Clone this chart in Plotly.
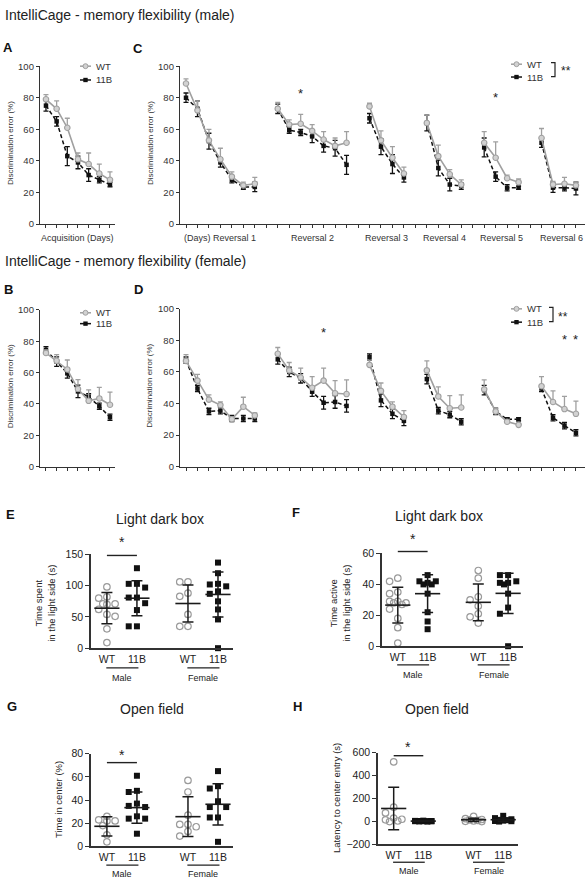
import numpy as np
import plotly.graph_objects as go

W, H = 586, 886
FONT = "Liberation Sans, Arial, sans-serif"
TXT = "#222222"
AX = "#333333"

# ---------------- data ----------------
acq_days = [1, 2, 3, 4, 5, 6, 7]
reversal_names = ["(Days) Reversal 1", "Reversal 2", "Reversal 3", "Reversal 4", "Reversal 5", "Reversal 6"]
reversal_days = [7, 7, 4, 4, 4, 4]

male_acq_wt = [79, 73, 61, 41, 38, 32, 28]
male_acq_wt_err = [3, 5, 6, 4, 7, 6, 5]
male_acq_kb = [75, 65, 43, 39, 31, 28, 25]
male_acq_kb_err = [3.5, 3, 6, 4, 4, 2, 1.5]

female_acq_wt = [72.5, 67.5, 62, 49.5, 42, 43.5, 39.5]
female_acq_wt_err = [2, 4, 6, 6, 7, 7, 8]
female_acq_kb = [74.5, 67, 59.5, 48, 44.5, 38.5, 31.5]
female_acq_kb_err = [2, 3, 3, 4, 2, 2, 2]

male_rev_wt = [[89, 72, 53, 41, 30, 24.5, 25.5], [73, 63, 63.5, 59, 53.5, 49.5, 51.5],
               [74.5, 53, 42, 32], [64, 43, 31.5, 25], [51.5, 42, 29, 26.5], [54.5, 25, 25.5, 24.5]]
male_rev_wt_err = [[3, 6, 7, 7, 3, 2, 4], [4, 3, 6, 4, 5, 5, 7],
                   [2, 6, 7, 4], [5, 7, 3, 3], [7, 10, 2, 2], [6, 2, 4, 2]]
male_rev_kb = [[80, 73, 52.5, 39, 28, 23.5, 23.5], [73, 59.5, 58, 55.5, 49.5, 48, 37.5],
               [67, 49, 38, 29.5], [64, 35.5, 25, 24], [48.5, 30, 23, 23], [51.5, 23, 23, 22.5]]
male_rev_kb_err = [[3, 5, 5, 3, 2, 1.5, 3], [3, 2, 2, 4, 4, 5, 6],
                   [3, 5, 6, 3], [5, 5, 4, 2], [6, 3, 2, 1], [3, 3, 2, 4]]

female_rev_wt = [[67, 54.5, 42.5, 39, 30, 38, 32.5], [71.5, 61, 56.5, 50, 54.5, 46.5, 46],
                 [64.5, 48, 38, 31.5], [61, 44.5, 37, 37.5], [49, 35, 28.5, 26.5], [51, 41, 36.5, 33.5]]
female_rev_wt_err = [[4, 4, 3, 2, 1.5, 6, 1.5], [4, 5, 6, 7, 8, 8, 9],
                     [3, 5, 3, 4], [6, 6, 8, 8], [6, 2, 1, 1], [6, 7, 8, 8]]
female_rev_kb = [[67.5, 49.5, 35, 35.5, 30.5, 30.5, 30.5], [68, 60, 56, 47.5, 40.5, 41, 38.5],
                 [69.5, 42, 33.5, 29], [55.5, 35.5, 33, 28.5], [48.5, 35, 30, 30], [49.5, 31, 26, 21.5]]
female_rev_kb_err = [[2, 2, 2, 2, 2, 2, 2], [3, 3, 3, 3, 4, 4, 4],
                     [2, 4, 3, 3], [3, 2, 2, 2], [3, 2, 1, 1], [2, 2, 2, 2]]

group_labels = ["WT", "11B", "WT", "11B"]
sex_labels = ["Male", "Female"]

# E: light dark box, time spent (s)
E_points = [[98, 82, 80, 71, 70, 71, 62, 54, 51, 31, 9],
            [128, 103, 103, 97, 81, 81, 72, 61, 35, 35],
            [106, 106, 88, 83, 54, 35, 35],
            [137, 120, 99, 102, 103, 91, 87, 75, 62, 46, 0]]
E_mean = [64, 80, 71.5, 86]
E_sd = [25, 28, 29.5, 36]
E_ticks = [0, 50, 100, 150]

# F: light dark box, time active (s)
F_points = [[44, 42, 35, 34, 29, 29, 28, 28, 27, 24, 18, 12, 2],
            [46, 42, 42, 41, 40, 40, 34, 22, 16, 11],
            [49, 44, 32, 30, 26, 21, 19, 15],
            [46, 46, 42, 41, 41, 40, 34, 25, 21, 0]]
F_mean = [26.6, 34, 28.4, 34.2]
F_sd = [11.6, 12.2, 11.9, 13]
F_ticks = [0, 20, 40, 60]

# G: open field, time in center (%)
G_points = [[23, 22, 26, 22, 18, 10, 4],
            [61, 47, 48, 37, 34, 35, 26, 24, 24, 11],
            [57, 47, 27, 19, 19, 17, 13, 9],
            [65, 50, 52, 39, 34, 34, 25, 25, 4]]
G_mean = [17.4, 33.5, 25.7, 36.4]
G_sd = [8.3, 13.5, 17.1, 17.8]
G_ticks = [0, 20, 40, 60, 80]

# H: open field, latency to center entry (s)
H_points = [[520, 125, 75, 30, 20, 15, 5, 0],
            [8, 6, 5, 5, 4, 3, 3, 2, 1, 0],
            [45, 25, 18, 15, 10, 5, 2, 0],
            [50, 30, 20, 15, 12, 8, 5, 3, 0]]
H_mean = [114, 4, 15, 16]
H_sd = [186, 3, 14, 16]
H_ticks = [-200, 0, 200, 400, 600]

# ---------------- layout geometry (pixels) ----------------
group_x = [1, 2, 3.7, 4.7]
P = {
    'A': dict(n='', xd=(40, 115), yd=(61, 221), xr=(0.44, 7.47), yr=(0, 100)),
    'C': dict(n='2', xd=(180, 585), yd=(61, 221), xr=(0.477, 35.79), yr=(0, 100)),
    'B': dict(n='3', xd=(40, 115), yd=(308, 467), xr=(0.44, 7.47), yr=(0, 100)),
    'D': dict(n='4', xd=(180, 585), yd=(307, 467), xr=(0.477, 35.79), yr=(0, 100)),
    'E': dict(n='5', xd=(91, 233), yd=(556, 651), xr=(0.47, 5.2), yr=(0, 150)),
    'F': dict(n='6', xd=(382, 523), yd=(555, 649), xr=(0.47, 5.2), yr=(0, 60)),
    'G': dict(n='7', xd=(91, 233), yd=(758, 852), xr=(0.47, 5.2), yr=(0, 80)),
    'H': dict(n='8', xd=(378, 518), yd=(757, 850), xr=(0.47, 5.2), yr=(-200, 600)),
}


def fx(px):
    return px / W


def fy(py):
    return 1 - py / H


def xpx(p, v):
    d = P[p]
    return d['xd'][0] + (v - d['xr'][0]) / (d['xr'][1] - d['xr'][0]) * (d['xd'][1] - d['xd'][0])


def xscale(p):
    d = P[p]
    return (d['xd'][1] - d['xd'][0]) / (d['xr'][1] - d['xr'][0])


def yscale(p):
    d = P[p]
    return (d['yd'][1] - d['yd'][0]) / (d['yr'][1] - d['yr'][0])


def slot_groups(days):
    out, s = [], 1
    for n in days:
        out.append(list(range(s, s + n)))
        s += n + 1
    return out


rev_slots = slot_groups(reversal_days)
all_slots = list(range(1, rev_slots[-1][-1] + 1))

fig = go.Figure()

WT_LINE = "#a0a0a0"
WT_FILL = "#d2d2d2"
KB = "#111111"


def add_lines(p, xs_groups, wt, wt_err, kb, kb_err):
    n = P[p]['n']
    xa, ya = 'x' + n, 'y' + n
    xs, wy, we, ky, ke, z = [], [], [], [], [], []
    for sl, a, ae, b, be in zip(xs_groups, wt, wt_err, kb, kb_err):
        xs += list(sl) + [None]
        wy += list(a) + [None]
        we += list(ae) + [0]
        ky += list(b) + [None]
        ke += list(be) + [0]
        z += [0] * len(sl) + [0]
    fig.add_trace(go.Scatter(x=xs, y=ky, xaxis=xa, yaxis=ya, mode='lines+markers', showlegend=False,
                             line=dict(color=KB, width=1.5, dash='4px,2.5px'),
                             marker=dict(symbol='square', size=4.5, color=KB),
                             error_y=dict(type='data', array=ke, symmetric=True, color=KB,
                                          thickness=1.3, width=2.5),
                             cliponaxis=False))
    fig.add_trace(go.Scatter(x=xs, y=wy, xaxis=xa, yaxis=ya, mode='lines+markers', showlegend=False,
                             line=dict(color=WT_LINE, width=1.6),
                             marker=dict(symbol='circle', size=5.5, color=WT_FILL,
                                         line=dict(color=WT_LINE, width=1.1)),
                             error_y=dict(type='data', array=we, arrayminus=z, symmetric=False,
                                          color=WT_LINE, thickness=1.3, width=2.5),
                             cliponaxis=False))


add_lines('A', [acq_days], [male_acq_wt], [male_acq_wt_err], [male_acq_kb], [male_acq_kb_err])
add_lines('B', [acq_days], [female_acq_wt], [female_acq_wt_err], [female_acq_kb], [female_acq_kb_err])
add_lines('C', rev_slots, male_rev_wt, male_rev_wt_err, male_rev_kb, male_rev_kb_err)
add_lines('D', rev_slots, female_rev_wt, female_rev_wt_err, female_rev_kb, female_rev_kb_err)


def swarm(vals, x0, xs_, ys_, step=8.2, diam=7.0):
    order = sorted(range(len(vals)), key=lambda i: -vals[i])
    placed = []
    offs = [0.0] * len(vals)
    for i in order:
        yp = vals[i] * ys_
        chosen = None
        for k in (0, -1, 1):
            dx = k * step
            if all(np.hypot(dx - a, yp - b) >= diam for a, b in placed):
                chosen = dx
                break
        if chosen is None:
            best = max((0, -1, 1, -0.5, 0.5),
                       key=lambda k: min(np.hypot(k * step - a, yp - b) for a, b in placed))
            chosen = best * step
        placed.append((chosen, yp))
        offs[i] = chosen
    return [x0 + o / xs_ for o in offs]


def add_dots(p, pts, means, sds):
    n = P[p]['n']
    xa, ya = 'x' + n, 'y' + n
    for gi, vals in enumerate(pts):
        xs = swarm(vals, group_x[gi], xscale(p), yscale(p))
        if gi % 2 == 0:
            mk = dict(symbol='circle-open', size=6.5, color='#9a9a9a', line=dict(width=1.2))
        else:
            mk = dict(symbol='square', size=6, color=KB)
        fig.add_trace(go.Scatter(x=xs, y=vals, xaxis=xa, yaxis=ya, mode='markers', marker=mk,
                                 showlegend=False, cliponaxis=False))
    fig.add_trace(go.Scatter(x=group_x, y=means, xaxis=xa, yaxis=ya, mode='markers', showlegend=False,
                             marker=dict(symbol='line-ew', size=18, line=dict(color='#1a1a1a', width=1.6)),
                             error_y=dict(type='data', array=sds, color='#1a1a1a', thickness=1.5, width=5.5),
                             cliponaxis=False))


add_dots('E', E_points, E_mean, E_sd)
add_dots('F', F_points, F_mean, F_sd)
add_dots('G', G_points, G_mean, G_sd)
add_dots('H', H_points, H_mean, H_sd)

# ---------------- axes ----------------
lay = {}
for p, d in P.items():
    n = d['n']
    xd = [fx(d['xd'][0]), fx(d['xd'][1])]
    yd = [fy(d['yd'][1]), fy(d['yd'][0])]
    line_ax = p in 'ABCD'
    xa = dict(domain=xd, range=list(d['xr']), anchor='y' + n, showgrid=False, zeroline=False,
              showline=True, linecolor=AX, linewidth=1.3 if line_ax else 1.5, fixedrange=True)
    ya = dict(domain=yd, range=list(d['yr']), anchor='x' + n, showgrid=False, zeroline=False,
              showline=True, linecolor=AX, linewidth=1.3 if line_ax else 1.5, ticks='outside',
              tickcolor=AX, tickwidth=1.2, fixedrange=True)
    if line_ax:
        xa.update(ticks='outside', ticklen=3, tickwidth=1, tickcolor=AX, showticklabels=False,
                  tickvals=acq_days if p in 'AB' else all_slots)
        ya.update(ticklen=3, tickvals=[0, 20, 40, 60, 80, 100],
                  tickfont=dict(size=9.5, color=AX, family=FONT))
    else:
        xa.update(ticks='', tickvals=group_x, ticktext=group_labels,
                  tickfont=dict(size=10.5, color=TXT, family=FONT))
        tv = {'E': E_ticks, 'F': F_ticks, 'G': G_ticks, 'H': H_ticks}[p]
        ya.update(ticklen=4, tickvals=tv, tickfont=dict(size=10.5, color=TXT, family=FONT))
    lay['xaxis' + n] = xa
    lay['yaxis' + n] = ya

ann = []
shapes = []


def text(px, py, s, size, xanchor='center', bold=False, angle=0, color=TXT):
    ann.append(dict(x=fx(px), y=fy(py), xref='paper', yref='paper', text=('<b>%s</b>' % s) if bold else s,
                    showarrow=False, xanchor=xanchor, yanchor='middle', textangle=angle,
                    font=dict(size=size, color=color, family=FONT)))


def hline(x0, x1, py, color='#222', width=1.4):
    shapes.append(dict(type='line', xref='paper', yref='paper', x0=fx(x0), x1=fx(x1), y0=fy(py), y1=fy(py),
                       line=dict(color=color, width=width)))


# titles
text(3, 9, "IntelliCage - memory flexibility (male)", 14, xanchor='left')
text(3, 258, "IntelliCage - memory flexibility (female)", 14, xanchor='left')
for L, (px, py) in {'A': (8, 42), 'C': (138, 43), 'B': (8, 287), 'D': (138, 287),
                    'E': (10, 515), 'F': (296, 513), 'G': (12, 710), 'H': (297, 710)}.items():
    text(px, py, L, 13, bold=True, color='#111')

# y titles for line panels
for p, px in (('A', 10), ('C', 150), ('B', 10), ('D', 150)):
    yc = (P[p]['yd'][0] + P[p]['yd'][1]) / 2 - 2
    text(px, yc, "Discrimination error (%)", 8, angle=-90, color=AX)

# category labels
text(xpx('A', np.mean(acq_days)), 235, "Acquisition (Days)", 9, color=AX)
for i, (nm, sl) in enumerate(zip(reversal_names, rev_slots)):
    cx = xpx('C', np.mean(sl))
    if i == len(rev_slots) - 1:
        text(585, 235, nm, 9, xanchor='right', color=AX)
    else:
        text(cx, 235, nm, 9, color=AX)


# legends
def legend(x0, yw, yk):
    hline(x0, x0 + 11, yw, color=WT_LINE, width=1.5)
    shapes.append(dict(type='circle', xref='paper', yref='paper', x0=fx(x0 + 3), x1=fx(x0 + 8),
                       y0=fy(yw + 2.5), y1=fy(yw - 2.5), fillcolor=WT_FILL, line=dict(color=WT_LINE, width=1)))
    hline(x0, x0 + 11, yk, color=KB, width=1.5)
    shapes.append(dict(type='rect', xref='paper', yref='paper', x0=fx(x0 + 3.3), x1=fx(x0 + 7.7),
                       y0=fy(yk + 2.2), y1=fy(yk - 2.2), fillcolor=KB, line=dict(width=0)))
    text(x0 + 14, yw, "WT", 9.5, xanchor='left', color=AX)
    text(x0 + 14, yk, "11B", 9.5, xanchor='left', color=AX)


legend(80, 61, 75)
legend(80, 311, 322)
legend(511, 59, 72)
legend(511, 307, 320.5)


def bracket(x0, x1, y0, y1):
    shapes.append(dict(type='path', xref='paper', yref='paper',
                       path='M %f,%f L %f,%f L %f,%f L %f,%f' % (fx(x0), fy(y0), fx(x1), fy(y0),
                                                                 fx(x1), fy(y1), fx(x0), fy(y1)),
                       line=dict(color='#222', width=1.2)))


bracket(551, 555, 57.5, 71.5)
text(559, 66, "**", 12, xanchor='left')
bracket(549, 553, 305.5, 320)
text(556, 315, "**", 12, xanchor='left')

# asterisks on line panels
text(xpx('C', 11), 89, "*", 13)
text(xpx('C', 28), 93, "*", 13)
text(xpx('D', 13), 331, "*", 13)
text(xpx('D', 34), 338, "*", 13)
text(xpx('D', 35), 338, "*", 13)

# dot panel titles, y titles, group lines
text(160, 520, "Light dark box", 14)
text(439, 517, "Light dark box", 14)
text(152, 713, "Open field", 14)
text(437, 713, "Open field", 14)

text(45, 606, "Time spent<br>in the light side (s)", 9.5, angle=-90)
text(340, 606, "Time active<br>in the light side (s)", 9.5, angle=-90)
text(58, 805, "Time in center (%)", 9.5, angle=-90)
text(336, 803, "Latency to center entry (s)", 9.5, angle=-90)

for p, yl, yt, ysig, yast in (('E', 671, 681, 557, 543), ('F', 668, 678, 553, 540),
                              ('G', 871, 880, 767, 759), ('H', 868, 877, 760, 751)):
    for si, sx in enumerate(sex_labels):
        a = xpx(p, group_x[2 * si] - 0.02)
        b = xpx(p, group_x[2 * si + 1] + 0.05)
        hline(a, b, yl, width=1.3)
        text((a + b) / 2, yt, sx, 9)
    a = xpx(p, group_x[0])
    b = xpx(p, group_x[1])
    hline(a, b, ysig, width=1.4)
    text((a + b) / 2, yast, "*", 14)

fig.update_layout(width=W, height=H, margin=dict(l=0, r=0, t=0, b=0), paper_bgcolor='white',
                  plot_bgcolor='white', showlegend=False, font=dict(family=FONT, color=TXT),
                  annotations=ann, shapes=shapes, **lay)

fig.write_html("out.html", config={'displayModeBar': False},
               post_script="document.body.style.margin='0';document.body.style.padding='0';"
                           "document.body.style.overflow='hidden';"
                           "document.documentElement.style.overflow='hidden';")
